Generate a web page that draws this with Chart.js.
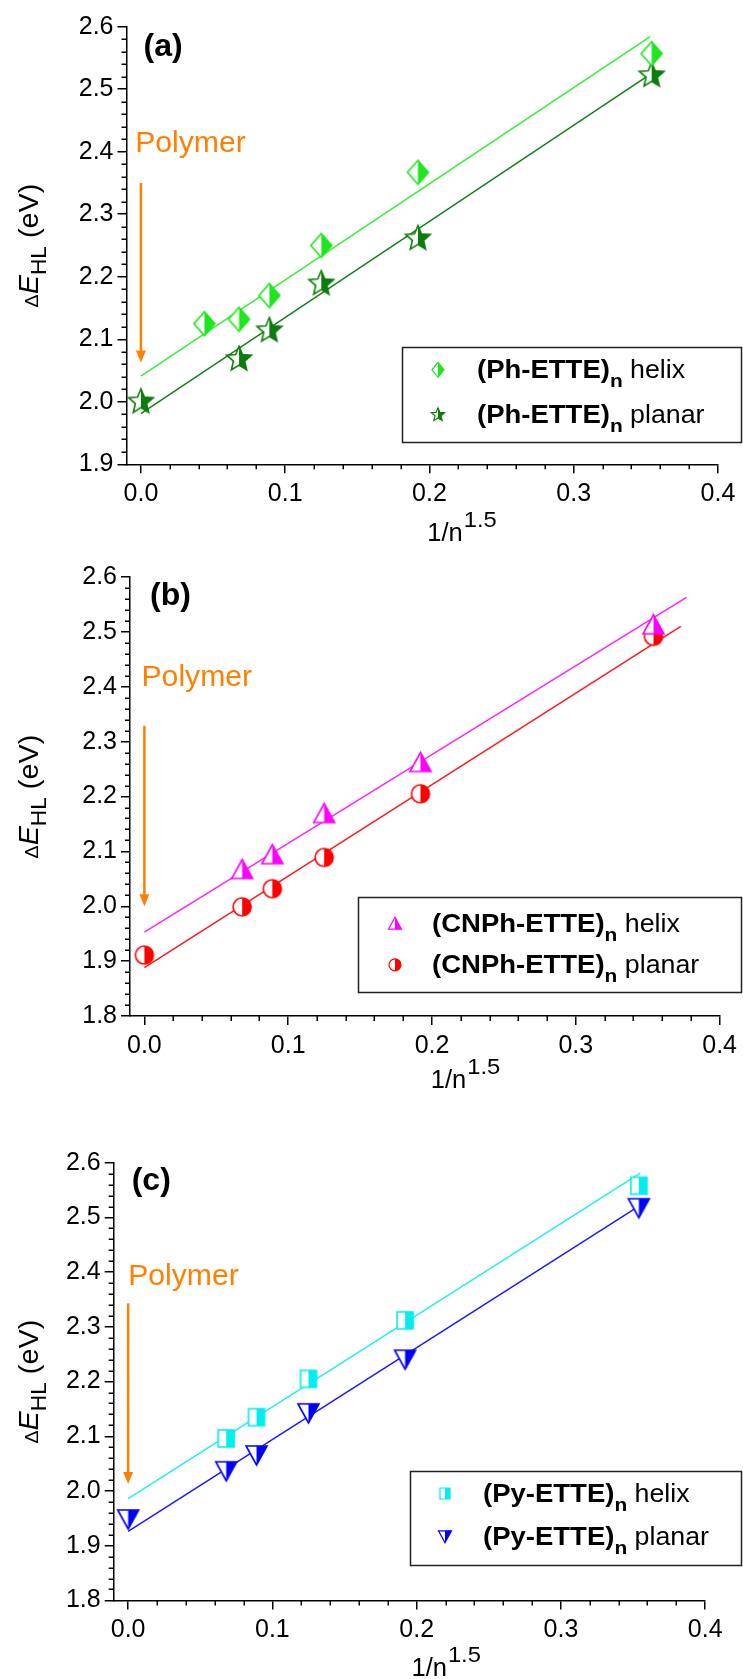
<!DOCTYPE html>
<html><head><meta charset="utf-8">
<script src="https://cdn.jsdelivr.net/npm/chart.js@4.4.1/dist/chart.umd.min.js"></script>
<style>
html,body{margin:0;padding:0;background:#fff;}
#wrap{position:relative;width:743px;height:1679px;overflow:hidden;background:#fff;}
canvas{position:absolute;left:0;}
</style></head><body><div id="wrap">
<canvas id="ca" width="743" height="555" style="top:0px"></canvas>
<canvas id="cb" width="743" height="555" style="top:555px"></canvas>
<canvas id="cc" width="743" height="569" style="top:1110px"></canvas>
</div>
<script>
// ---------- tick labels ----------
const xTickLabels = ['0.0', '0.1', '0.2', '0.3', '0.4'];
const yTickLabelsA = ['1.9', '2.0', '2.1', '2.2', '2.3', '2.4', '2.5', '2.6'];
const yTickLabelsBC = ['1.8', '1.9', '2.0', '2.1', '2.2', '2.3', '2.4', '2.5', '2.6'];

// ---------- panel (a) ----------
const aHelixX = [0.044, 0.068, 0.089, 0.125, 0.192, 0.354];
const aHelixY = [2.125, 2.132, 2.170, 2.250, 2.367, 2.557];
const aPlanarX = [0, 0.068, 0.089, 0.125, 0.192, 0.354];
const aPlanarY = [2.002, 2.070, 2.116, 2.191, 2.263, 2.524];
const aHelixFitX = [0, 0.353];
const aHelixFitY = [2.041, 2.584];
const aPlanarFitX = [0, 0.355];
const aPlanarFitY = [1.981, 2.527];

// ---------- panel (b) ----------
const bHelixX = [0.068, 0.089, 0.125, 0.192, 0.354];
const bHelixY = [2.068, 2.095, 2.170, 2.263, 2.514];
const bPlanarX = [0, 0.068, 0.089, 0.125, 0.192, 0.354];
const bPlanarY = [1.911, 1.999, 2.032, 2.089, 2.205, 2.492];
const bHelixFitX = [0, 0.377];
const bHelixFitY = [1.953, 2.563];
const bPlanarFitX = [0, 0.373];
const bPlanarFitY = [1.888, 2.510];

// ---------- panel (c) ----------
const cHelixX = [0.068, 0.089, 0.125, 0.192, 0.354];
const cHelixY = [2.096, 2.135, 2.205, 2.312, 2.558];
const cPlanarX = [0, 0.068, 0.089, 0.125, 0.192, 0.354];
const cPlanarY = [1.948, 2.036, 2.065, 2.142, 2.240, 2.517];
const cHelixFitX = [0, 0.355];
const cHelixFitY = [1.986, 2.581];
const cPlanarFitX = [0, 0.353];
const cPlanarFitY = [1.926, 2.519];

// ---------- legend texts ----------
const aPrefix = '(Ph-ETTE)';
const bPrefix = '(CNPh-ETTE)';
const cPrefix = '(Py-ETTE)';
const seriesNames = ['helix', 'planar'];

const FONT = '"Liberation Sans", Arial, Helvetica, sans-serif';

// ---------- marker drawing ----------
function shapePath(ctx, shape, cx, cy, w, h) {
  ctx.beginPath();
  if (shape === 'diamond') {
    ctx.moveTo(cx, cy - h / 2); ctx.lineTo(cx + w / 2, cy); ctx.lineTo(cx, cy + h / 2); ctx.lineTo(cx - w / 2, cy); ctx.closePath();
  } else if (shape === 'star') {
    const R = h / 2, r = R * 0.45;
    const oy = cy + R * 0.095;
    for (let i = 0; i < 10; i++) {
      const rr = i % 2 === 0 ? R : r;
      const a = -Math.PI / 2 + i * Math.PI / 5;
      const px = cx + rr * Math.cos(a), py = oy + rr * Math.sin(a);
      if (i === 0) ctx.moveTo(px, py); else ctx.lineTo(px, py);
    }
    ctx.closePath();
  } else if (shape === 'triUp') {
    ctx.moveTo(cx, cy - h / 2); ctx.lineTo(cx + w / 2, cy + h / 2); ctx.lineTo(cx - w / 2, cy + h / 2); ctx.closePath();
  } else if (shape === 'triDown') {
    ctx.moveTo(cx - w / 2, cy - h / 2); ctx.lineTo(cx + w / 2, cy - h / 2); ctx.lineTo(cx, cy + h / 2); ctx.closePath();
  } else if (shape === 'circle') {
    ctx.ellipse(cx, cy, w / 2, h / 2, 0, 0, Math.PI * 2);
  } else if (shape === 'square') {
    ctx.rect(cx - w / 2, cy - h / 2, w, h);
  }
}
function drawMarker(ctx, shape, cx, cy, w, h, color, lw) {
  ctx.save();
  shapePath(ctx, shape, cx, cy, w, h);
  ctx.fillStyle = '#fff'; ctx.fill();
  ctx.save();
  ctx.beginPath(); ctx.rect(cx, cy - h, w, 2 * h); ctx.clip();
  shapePath(ctx, shape, cx, cy, w, h);
  ctx.fillStyle = color; ctx.fill();
  ctx.restore();
  shapePath(ctx, shape, cx, cy, w, h);
  ctx.strokeStyle = color; ctx.lineWidth = lw; ctx.lineJoin = 'miter';
  ctx.stroke();
  ctx.restore();
}
function markerCanvas(shape, w, h, color, lw) {
  const pad = 3;
  const c = document.createElement('canvas');
  c.width = Math.ceil(w + 2 * pad); c.height = Math.ceil(h + 2 * pad);
  drawMarker(c.getContext('2d'), shape, c.width / 2, c.height / 2, w, h, color, lw);
  return c;
}

function txt(ctx, s, x, y, font, color, sx) {
  ctx.save();
  ctx.font = font; ctx.fillStyle = color; ctx.textBaseline = 'alphabetic'; ctx.textAlign = 'left';
  ctx.translate(x, y); ctx.scale(sx || 1, 1);
  ctx.fillText(s, 0, 0);
  const w = ctx.measureText(s).width * (sx || 1);
  ctx.restore();
  return w;
}

function pts(xs, ys) { return xs.map((v, i) => ({ x: v, y: ys[i] })); }

// ---------- annotation plugin ----------
const decor = {
  id: 'decor',
  afterDraw(chart) {
    const o = chart.options.plugins.decor;
    const ctx = chart.ctx;
    const xs = chart.scales.x, ys = chart.scales.y;
    const ca = chart.chartArea;
    ctx.save();
    // minor ticks
    ctx.strokeStyle = '#000'; ctx.lineWidth = 1.5;
    const xv = xTickLabels.map(Number);
    for (let i = 0; i < xv.length - 1; i++) {
      for (let k = 1; k < 5; k++) {
        const px = Math.round(xs.getPixelForValue(xv[i] + k * (xv[i + 1] - xv[i]) / 5)) + 0.25;
        ctx.beginPath(); ctx.moveTo(px, ca.bottom); ctx.lineTo(px, ca.bottom + 5); ctx.stroke();
      }
    }
    const yv = o.yTicks.map(Number);
    for (let i = 0; i < yv.length - 1; i++) {
      for (let k = 1; k < 5; k++) {
        const py = Math.round(ys.getPixelForValue(yv[i] + k * (yv[i + 1] - yv[i]) / 5)) + 0.25;
        ctx.beginPath(); ctx.moveTo(ca.left, py); ctx.lineTo(ca.left - 5, py); ctx.stroke();
      }
    }
    // panel tag
    txt(ctx, o.tag, ca.left + o.tagDx, ca.top + o.tagDy, 'bold 32px ' + FONT, '#000', 1);
    // Polymer label + arrow
    const orange = '#FF8000';
    txt(ctx, 'Polymer', xs.getPixelForValue(o.polyX), ys.getPixelForValue(o.polyY), '29px ' + FONT, orange, 1.04);
    const ax = xs.getPixelForValue(o.arrowX);
    const ay0 = ys.getPixelForValue(o.arrowY0), ay1 = ys.getPixelForValue(o.arrowY1);
    ctx.strokeStyle = orange; ctx.fillStyle = orange; ctx.lineWidth = 2.5;
    ctx.beginPath(); ctx.moveTo(ax, ay0); ctx.lineTo(ax, ay1 - 10); ctx.stroke();
    ctx.beginPath(); ctx.moveTo(ax - 5, ay1 - 12); ctx.lineTo(ax + 5, ay1 - 12); ctx.lineTo(ax, ay1); ctx.closePath(); ctx.fill();
    // y title
    const midY = (ca.top + ca.bottom) / 2;
    ctx.save();
    ctx.translate(o.yTitleX, midY); ctx.rotate(-Math.PI / 2);
    const parts = [
      { t: '\u0394', f: '19px ' + FONT, dy: 0 },
      { t: 'E', f: 'italic 28px ' + FONT, dy: 0 },
      { t: 'HL', f: '22px ' + FONT, dy: 8 },
      { t: ' (eV)', f: '28px ' + FONT, dy: 0 }
    ];
    let tot = 0;
    parts.forEach(p => { ctx.font = p.f; p.w = ctx.measureText(p.t).width * 1.03; tot += p.w; });
    let cx = -tot / 2;
    parts.forEach(p => { txt(ctx, p.t, cx, p.dy, p.f, '#000', 1.03); cx += p.w; });
    ctx.restore();
    // x title
    const xc = (ca.left + ca.right) / 2 + o.xTitleDx;
    const xb = ca.bottom + o.xTitleDy;
    let w1 = txt(ctx, '1/n', xc, xb, '25px ' + FONT, '#000', 1.02);
    txt(ctx, '1.5', xc + w1 + 1, xb - 14, '22px ' + FONT, '#000', 1.08);
    // legend
    const L = o.legend;
    ctx.strokeStyle = '#222'; ctx.lineWidth = 1.5;
    ctx.strokeRect(L.left + 0.5, L.top + 0.5, 741 - L.left, L.bottom - L.top);
    L.rows.forEach((r, i) => {
      const base = L.top + L.base[i];
      drawMarker(ctx, r.shape, L.markerX, base - 8.5, r.w, r.h, r.color, 1.2);
      let x = L.textX;
      x += txt(ctx, o.prefix, x, base, 'bold 25px ' + FONT, '#000', 1.1);
      x += txt(ctx, 'n', x, base + 9, 'bold 19px ' + FONT, '#000', 1.1);
      txt(ctx, ' ' + seriesNames[i], x, base, '25px ' + FONT, '#000', 1.07);
    });
    ctx.restore();
  }
};

function makeChart(id, P) {
  const canvas = document.getElementById(id);
  const H = canvas.height;
  const datasets = [];
  P.series.forEach(s => {
    datasets.push({
      data: pts(s.x, s.y), showLine: false,
      pointStyle: markerCanvas(s.shape, s.w, s.h, s.color, 1.6),
      pointRadius: 10, clip: false, borderColor: s.color, backgroundColor: s.color
    });
  });
  P.series.forEach(s => {
    datasets.push({
      data: pts(s.fitX, s.fitY), showLine: true, borderColor: s.lineColor, borderWidth: 1.5,
      pointRadius: 0, fill: false, tension: 0
    });
  });
  const tickFont = { family: FONT, size: 25 };
  return new Chart(canvas, {
    type: 'scatter',
    data: { datasets },
    plugins: [decor],
    options: {
      responsive: false, animation: false, devicePixelRatio: 1, events: [],
      layout: { padding: { top: P.top, right: 743 - P.right, bottom: 0, left: 0 } },
      plugins: {
        legend: { display: false }, tooltip: { enabled: false },
        decor: P.decor
      },
      scales: {
        x: {
          type: 'linear', min: -0.01, max: 0.4,
          afterBuildTicks: s => { s.ticks = xTickLabels.map(t => ({ value: Number(t) })); },
          afterFit: s => { s.height = H - P.bottom; },
          ticks: { callback: (v, i) => xTickLabels[i], font: tickFont, color: '#000', padding: 6, maxRotation: 0, autoSkip: false },
          grid: { drawOnChartArea: false, drawTicks: true, tickLength: 9, tickWidth: 1.5, tickColor: '#000', color: '#000', lineWidth: 1.5 },
          border: { display: true, color: '#000', width: 1.5 }
        },
        y: {
          type: 'linear', min: P.yMin, max: P.yMax,
          afterBuildTicks: s => { s.ticks = P.decor.yTicks.map(t => ({ value: Number(t) })); },
          afterFit: s => { s.width = P.left; },
          ticks: { callback: (v, i) => P.decor.yTicks[i], font: tickFont, color: '#000', padding: 4, autoSkip: false },
          grid: { drawOnChartArea: false, drawTicks: true, tickLength: 9, tickWidth: 1.5, tickColor: '#000', color: '#000', lineWidth: 1.5 },
          border: { display: true, color: '#000', width: 1.5 }
        }
      }
    }
  });
}

// panel (a)
makeChart('ca', {
  left: 126.5, top: 26.7, right: 718, bottom: 464.3, yMin: 1.9, yMax: 2.6,
  series: [
    { x: aHelixX, y: aHelixY, fitX: aHelixFitX, fitY: aHelixFitY, shape: 'diamond', w: 21, h: 24, color: '#1FE61F', lineColor: '#33F033' },
    { x: aPlanarX, y: aPlanarY, fitX: aPlanarFitX, fitY: aPlanarFitY, shape: 'star', w: 26, h: 26, color: '#0B7D0B', lineColor: '#158015' }
  ],
  decor: {
    yTicks: yTickLabelsA, tag: '(a)', tagDx: 17, tagDy: 29,
    polyX: -0.004, polyY: 2.40, arrowX: 0, arrowY0: 2.35, arrowY1: 2.063,
    yTitleX: 38, xTitleDx: 5, xTitleDy: 77, prefix: aPrefix,
    legend: { left: 402, top: 347, bottom: 442, markerX: 438, textX: 477, base: [31.3, 75.7],
      rows: [{ shape: 'diamond', w: 12, h: 15, color: '#1FE61F' }, { shape: 'star', w: 14, h: 14, color: '#0B7D0B' }] }
  }
});

// panel (b)
makeChart('cb', {
  left: 130, top: 22.1, right: 721.8, bottom: 461, yMin: 1.8, yMax: 2.6,
  series: [
    { x: bHelixX, y: bHelixY, fitX: bHelixFitX, fitY: bHelixFitY, shape: 'triUp', w: 21, h: 19, color: '#FF00FF', lineColor: '#FF22FF' },
    { x: bPlanarX, y: bPlanarY, fitX: bPlanarFitX, fitY: bPlanarFitY, shape: 'circle', w: 18, h: 18, color: '#FF0000', lineColor: '#FF1A1A' }
  ],
  decor: {
    yTicks: yTickLabelsBC, tag: '(b)', tagDx: 20, tagDy: 28,
    polyX: -0.002, polyY: 2.402, arrowX: 0, arrowY0: 2.329, arrowY1: 2.0,
    yTitleX: 38, xTitleDx: 6, xTitleDy: 72, prefix: bPrefix,
    legend: { left: 358, top: 897 - 555, bottom: 992 - 555, markerX: 395, textX: 432, base: [34.7, 76.3],
      rows: [{ shape: 'triUp', w: 13, h: 12, color: '#FF00FF' }, { shape: 'circle', w: 12, h: 12, color: '#FF0000' }] }
  }
});

// panel (c)
makeChart('cc', {
  left: 113.7, top: 52.8, right: 705.2, bottom: 490.4, yMin: 1.8, yMax: 2.6,
  series: [
    { x: cHelixX, y: cHelixY, fitX: cHelixFitX, fitY: cHelixFitY, shape: 'square', w: 16, h: 17, color: '#00EEEE', lineColor: '#22EEEE' },
    { x: cPlanarX, y: cPlanarY, fitX: cPlanarFitX, fitY: cPlanarFitY, shape: 'triDown', w: 21, h: 19, color: '#0000FF', lineColor: '#1A1AFF' }
  ],
  decor: {
    yTicks: yTickLabelsBC, tag: '(c)', tagDx: 18, tagDy: 27,
    polyX: 0, polyY: 2.377, arrowX: 0, arrowY0: 2.343, arrowY1: 2.013,
    yTitleX: 38, xTitleDx: 2, xTitleDy: 76, prefix: cPrefix,
    legend: { left: 410, top: 1471 - 1110, bottom: 1565 - 1110, markerX: 445, textX: 483, base: [31, 74.3],
      rows: [{ shape: 'square', w: 10, h: 11, color: '#00EEEE' }, { shape: 'triDown', w: 13, h: 12, color: '#0000FF' }] }
  }
});
</script>
</body></html>
